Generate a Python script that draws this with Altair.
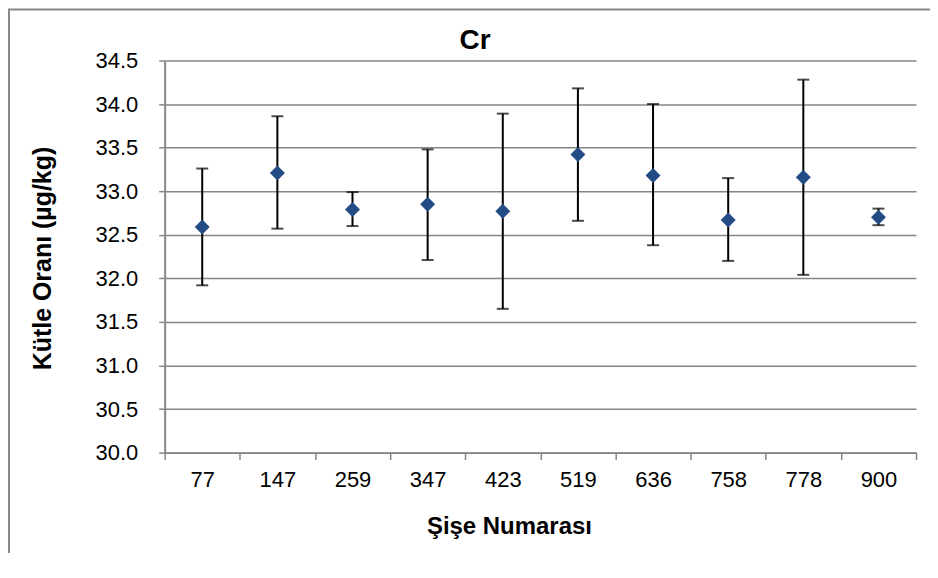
import altair as alt
import pandas as pd

bottles = ["77", "147", "259", "347", "423", "519", "636", "758", "778", "900"]
means = [32.59, 33.21, 32.79, 32.85, 32.77, 33.42, 33.18, 32.67, 33.16, 32.70]
uppers = [33.26, 33.86, 32.99, 33.48, 33.89, 34.18, 34.00, 33.15, 34.28, 32.80]
lowers = [31.92, 32.57, 32.60, 32.21, 31.65, 32.66, 32.38, 32.20, 32.04, 32.61]
chart_title = "Cr"

df = pd.DataFrame({"bottle": bottles, "mean": means, "hi": uppers, "lo": lowers})

FONT = "Liberation Sans"
GRAY = "#868686"
W, H = 753, 393

xenc = alt.X(
    "bottle:N",
    sort=bottles,
    scale=alt.Scale(paddingInner=0, paddingOuter=0),
    axis=alt.Axis(
        title="Şişe Numarası",
        labelAngle=0,
        tickBand="extent",
        tickSize=7,
        tickColor=GRAY,
        tickWidth=1.5,
        domainColor=GRAY,
        domainWidth=2,
        labelPadding=10,
        labelFontSize=22,
        labelFont=FONT,
        labelColor="black",
        titleFont=FONT,
        titleFontSize=24,
        titleFontWeight="bold",
        titleColor="black",
        titleX=345,
        titleY=74,
        titleBaseline="middle",
        titleAlign="center",
    ),
)

yscale = alt.Scale(domain=[30, 34.5], nice=False, zero=False)
yaxis = alt.Axis(
    title="Kütle Oranı (µg/kg)",
    values=[30 + 0.5 * i for i in range(10)],
    format=".1f",
    tickSize=6,
    tickColor=GRAY,
    tickWidth=1.5,
    domainColor=GRAY,
    domainWidth=2,
    gridColor=GRAY,
    gridWidth=1.5,
    labelPadding=21,
    labelFontSize=22,
    labelFont=FONT,
    labelColor="black",
    titleFont=FONT,
    titleFontSize=25,
    titleFontWeight="bold",
    titleColor="black",
    titleX=-122,
    titleY=198,
    titleAngle=-90,
    titleBaseline="middle",
    titleAlign="center",
)

base = alt.Chart(df)

rules = base.mark_rule(color="black", strokeWidth=2).encode(
    x=xenc,
    y=alt.Y("lo:Q", scale=yscale, axis=yaxis),
    y2="hi:Q",
)
caps_hi = base.mark_tick(color="black", size=12, thickness=2).encode(
    x=alt.X("bottle:N", sort=bottles), y=alt.Y("hi:Q", scale=yscale)
)
caps_lo = base.mark_tick(color="black", size=12, thickness=2).encode(
    x=alt.X("bottle:N", sort=bottles), y=alt.Y("lo:Q", scale=yscale)
)
points = base.mark_point(
    shape="diamond", filled=True, size=225, color="#234B84", opacity=1
).encode(x=alt.X("bottle:N", sort=bottles), y=alt.Y("mean:Q", scale=yscale))

border = alt.Chart(pd.DataFrame({"a": [0]})).mark_rect(
    fill=None, stroke="#898989", strokeWidth=2
).encode(
    x=alt.value(-156), x2=alt.value(W + 200), y=alt.value(-51), y2=alt.value(H + 300)
)

title_text = alt.Chart(pd.DataFrame({"t": [chart_title]})).mark_text(
    font=FONT, fontSize=28, fontWeight="bold", color="black",
    align="center", baseline="alphabetic",
).encode(text="t:N", x=alt.value(311), y=alt.value(-12))

chart = (
    alt.layer(rules, caps_hi, caps_lo, points, border, title_text)
    .properties(
        width=W,
        height=H,
        autosize=alt.AutoSizeParams(type="none"),
        padding={"left": 157, "top": 52, "right": 14, "bottom": 100},
    )
    .configure_view(stroke=None)
    .configure_axisX(grid=False)
)

chart.save("out.html", embed_options={"renderer": "svg", "actions": False})
